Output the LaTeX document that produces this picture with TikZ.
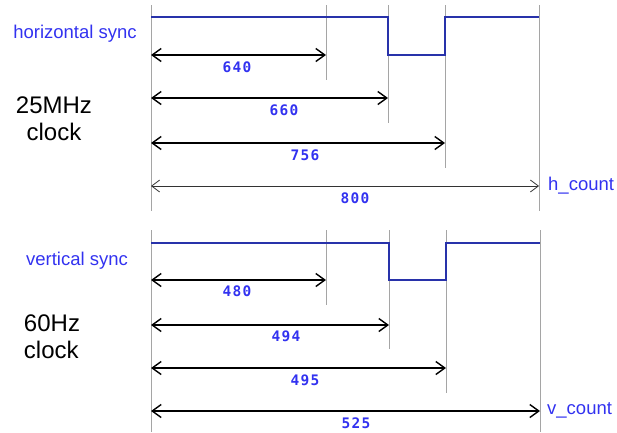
\documentclass[tikz,border=0pt]{standalone}
\usepackage{fontspec}
\setmainfont{Liberation Sans}
\newfontfamily\numfont[LetterSpace=9]{DejaVu Sans Mono}
\usetikzlibrary{arrows.meta}
\definecolor{sigblue}{RGB}{40,50,170}
\definecolor{txtblue}{RGB}{50,50,240}
\definecolor{guide}{RGB}{165,165,165}
\tikzset{
  guideline/.style={draw=guide, line width=0.8pt},
  signal/.style={draw=sigblue, line width=1.3pt},
  dimarrow/.style={draw=black, line width=1.6pt, {Straight Barb[length=9pt,width=13pt,line width=1.4pt]}-{Straight Barb[length=9pt,width=13pt,line width=1.4pt]}},
  thinarrow/.style={draw=black!80, line width=0.8pt, {Straight Barb[length=8pt,width=12pt,line width=0.8pt]}-{Straight Barb[length=8pt,width=12pt,line width=0.8pt]}},
  numlabel/.style={text=txtblue, font=\numfont\bfseries\fontsize{14.5}{16}\selectfont, inner sep=0pt},
  siglabel/.style={text=txtblue, font=\fontsize{18.5}{21}\selectfont, inner sep=0pt},
  clocklabel/.style={text=black, font=\fontsize{24}{27}\selectfont, inner sep=0pt, align=center},
}
\begin{document}
\begin{tikzpicture}[x=1pt,y=-1pt]
\useasboundingbox (0,0) rectangle (617,432);
% ---------- horizontal ----------
\coordinate (hL0) at (151,5);   \coordinate (hL1) at (151,211);
\coordinate (hA0) at (326,5);   \coordinate (hA1) at (326,80);
\coordinate (hB0) at (388,5);   \coordinate (hB1) at (388,123);
\coordinate (hC0) at (445,5);   \coordinate (hC1) at (445,168);
\coordinate (hD0) at (539,5);   \coordinate (hD1) at (539,211);
\draw[guideline] (hL0) -- (hL1);
\draw[guideline] (hA0) -- (hA1);
\draw[guideline] (hB0) -- (hB1);
\draw[guideline] (hC0) -- (hC1);
\draw[guideline] (hD0) -- (hD1);
\coordinate (hs0) at (151,17); \coordinate (hs1) at (388,17);
\coordinate (hs2) at (388,55); \coordinate (hs3) at (445,55);
\coordinate (hs4) at (445,17); \coordinate (hs5) at (539,17);
\draw[signal] (hs0) -- (hs1) -- (hs2) -- (hs3) -- (hs4) -- (hs5);
\coordinate (h640a) at (151,55);  \coordinate (h640b) at (326,55);
\coordinate (h660a) at (151,98);  \coordinate (h660b) at (388,98);
\coordinate (h756a) at (151,143); \coordinate (h756b) at (445,143);
\coordinate (h800a) at (151,186); \coordinate (h800b) at (539,186);
\draw[dimarrow] (h640a) -- (h640b);
\draw[dimarrow] (h660a) -- (h660b);
\draw[dimarrow] (h756a) -- (h756b);
\draw[thinarrow] (h800a) -- (h800b);
\node[numlabel] (n640) at (237,67) {640};
\node[numlabel] (n660) at (284,110) {660};
\node[numlabel] (n756) at (305,155) {756};
\node[numlabel] (n800) at (355,198) {800};
\node[siglabel] (hsync) at (75,34) {horizontal sync};
\node[clocklabel] (hclk) at (54,119) {25MHz\\clock};
\node[siglabel, anchor=west] (hcount) at (548,186) {h\_count};
% ---------- vertical ----------
\coordinate (vL0) at (151,230);  \coordinate (vL1) at (151,432);
\coordinate (vA0) at (326,230);  \coordinate (vA1) at (326,305);
\coordinate (vB0) at (389,230);  \coordinate (vB1) at (389,349);
\coordinate (vC0) at (446,230);  \coordinate (vC1) at (446,393);
\coordinate (vD0) at (540,230);  \coordinate (vD1) at (540,432);
\draw[guideline] (vL0) -- (vL1);
\draw[guideline] (vA0) -- (vA1);
\draw[guideline] (vB0) -- (vB1);
\draw[guideline] (vC0) -- (vC1);
\draw[guideline] (vD0) -- (vD1);
\coordinate (vs0) at (151,243); \coordinate (vs1) at (389,243);
\coordinate (vs2) at (389,280); \coordinate (vs3) at (446,280);
\coordinate (vs4) at (446,243); \coordinate (vs5) at (540,243);
\draw[signal] (vs0) -- (vs1) -- (vs2) -- (vs3) -- (vs4) -- (vs5);
\coordinate (v480a) at (151,280);  \coordinate (v480b) at (326,280);
\coordinate (v494a) at (151,325);  \coordinate (v494b) at (389,325);
\coordinate (v495a) at (151,368);  \coordinate (v495b) at (446,368);
\coordinate (v525a) at (151,411);  \coordinate (v525b) at (540,411);
\draw[dimarrow] (v480a) -- (v480b);
\draw[dimarrow] (v494a) -- (v494b);
\draw[dimarrow] (v495a) -- (v495b);
\draw[dimarrow] (v525a) -- (v525b);
\node[numlabel] (n480) at (237,291) {480};
\node[numlabel] (n494) at (286,336) {494};
\node[numlabel] (n495) at (305,380) {495};
\node[numlabel] (n525) at (356,423) {525};
\node[siglabel] (vsync) at (77,261) {vertical sync};
\node[clocklabel, align=left] (vclk) at (52,337) {60Hz\\clock};
\node[siglabel, anchor=west] (vcount) at (547,410) {v\_count};
\end{tikzpicture}
\end{document}
